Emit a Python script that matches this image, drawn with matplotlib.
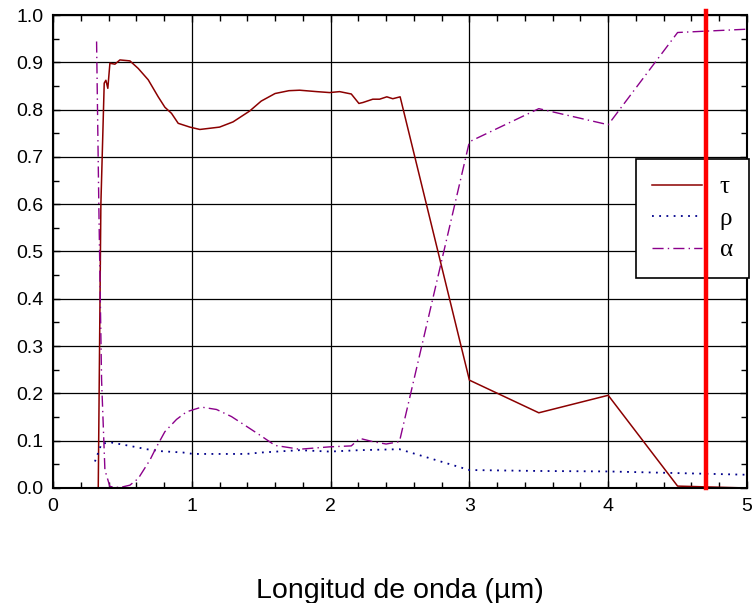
import matplotlib
matplotlib.use("Agg")
import matplotlib.pyplot as plt
from matplotlib.ticker import MultipleLocator

plt.rcParams['font.family'] = ['Liberation Sans', 'DejaVu Sans']

# transmittance tau
tau_x = [0.326, 0.345, 0.369, 0.381, 0.395, 0.41, 0.446, 0.482, 0.554, 0.614, 0.686, 0.758,
         0.806, 0.854, 0.902, 0.986, 1.058, 1.2, 1.297, 1.417, 1.5, 1.6, 1.7, 1.777, 1.9,
         1.993, 2.065, 2.149, 2.204, 2.233, 2.304, 2.353, 2.405, 2.448, 2.501, 3.0, 3.5,
         4.0, 4.5, 5.0]
tau_y = [0.0, 0.60, 0.856, 0.862, 0.845, 0.898, 0.896, 0.905, 0.903, 0.887, 0.863, 0.827,
         0.805, 0.792, 0.771, 0.763, 0.758, 0.763, 0.774, 0.797, 0.818, 0.834, 0.840, 0.841, 0.838,
         0.836, 0.838, 0.833, 0.813, 0.815, 0.822, 0.822, 0.827, 0.823, 0.827, 0.228, 0.159,
         0.196, 0.004, 0.0]

# reflectance rho
rho_x = [0.302, 0.35, 0.422, 0.554, 0.674, 0.77, 0.937, 1.01, 1.393, 1.5, 1.777, 1.993,
         2.209, 2.496, 3.0, 3.5, 4.0, 5.0]
rho_y = [0.056, 0.094, 0.096, 0.089, 0.082, 0.078, 0.075, 0.072, 0.072, 0.075, 0.080, 0.077,
         0.080, 0.082, 0.038, 0.036, 0.035, 0.028]

# absorptance alpha
alpha_x = [0.314, 0.33, 0.35, 0.374, 0.41, 0.482, 0.554, 0.614, 0.698, 0.746, 0.806, 0.89,
           0.962, 1.07, 1.178, 1.286, 1.417, 1.5, 1.6, 1.777, 1.993, 2.149, 2.209, 2.304,
           2.4, 2.496, 3.0, 3.5, 4.0, 4.5, 5.0]
alpha_y = [0.944, 0.60, 0.228, 0.038, 0.003, 0.001, 0.006, 0.020, 0.059, 0.087, 0.119, 0.145,
           0.161, 0.171, 0.166, 0.151, 0.126, 0.110, 0.090, 0.082, 0.087, 0.089, 0.105, 0.098,
           0.093, 0.098, 0.732, 0.802, 0.768, 0.963, 0.970]

labels = ['τ', 'ρ', 'α']
marker_x = 4.705
xlabel = 'Longitud de onda (µm)'

fig = plt.figure(figsize=(7.55, 6.03), dpi=100)
ax = fig.add_axes([53/755, 1-488/603, 694/755, 473/603])

ax.plot(tau_x, tau_y, color='#8b0000', lw=1.1, linestyle='-', label=labels[0])
ax.plot(rho_x, rho_y, color='#00008b', lw=1.3, linestyle=(0, (1, 3)), label=labels[1])
ax.plot(alpha_x, alpha_y, color='#8b008b', lw=1.0, linestyle=(0, (8, 3, 1, 3)), label=labels[2])

ax.axvline(marker_x, ymin=0, ymax=1.008, color='red', lw=3.2, zorder=10, clip_on=False)

ax.set_xlim(0, 5)
ax.set_ylim(0, 1.0)
ax.xaxis.set_major_locator(MultipleLocator(1))
ax.xaxis.set_minor_locator(MultipleLocator(0.2))
ax.yaxis.set_major_locator(MultipleLocator(0.1))
ax.yaxis.set_minor_locator(MultipleLocator(0.05))
ax.yaxis.set_major_formatter(plt.FormatStrFormatter('%.1f'))
ax.tick_params(which='both', direction='in', top=True, right=True, labelsize=14, width=1)
ax.tick_params(which='major', length=5, pad=7)
ax.tick_params(which='minor', length=4)
ax.grid(True, which='major', color='black', lw=0.9)
for s in ax.spines.values():
    s.set_linewidth(1.5)

ax.set_xlabel(xlabel, fontsize=20.5)
ax.xaxis.set_label_coords(0.5, -0.19)

leg = ax.legend(loc='upper left', bbox_to_anchor=(0.8395, 0.695),
                prop={'family': ['Liberation Serif', 'DejaVu Serif'], 'size': 18},
                frameon=True, fancybox=False, edgecolor='black', framealpha=1,
                handlelength=2.0, handletextpad=0.7, labelspacing=0.36,
                borderpad=0.66, borderaxespad=0)
leg.get_frame().set_linewidth(1.2)
leg.set_zorder(5)

fig.savefig('out.png', dpi=100)
